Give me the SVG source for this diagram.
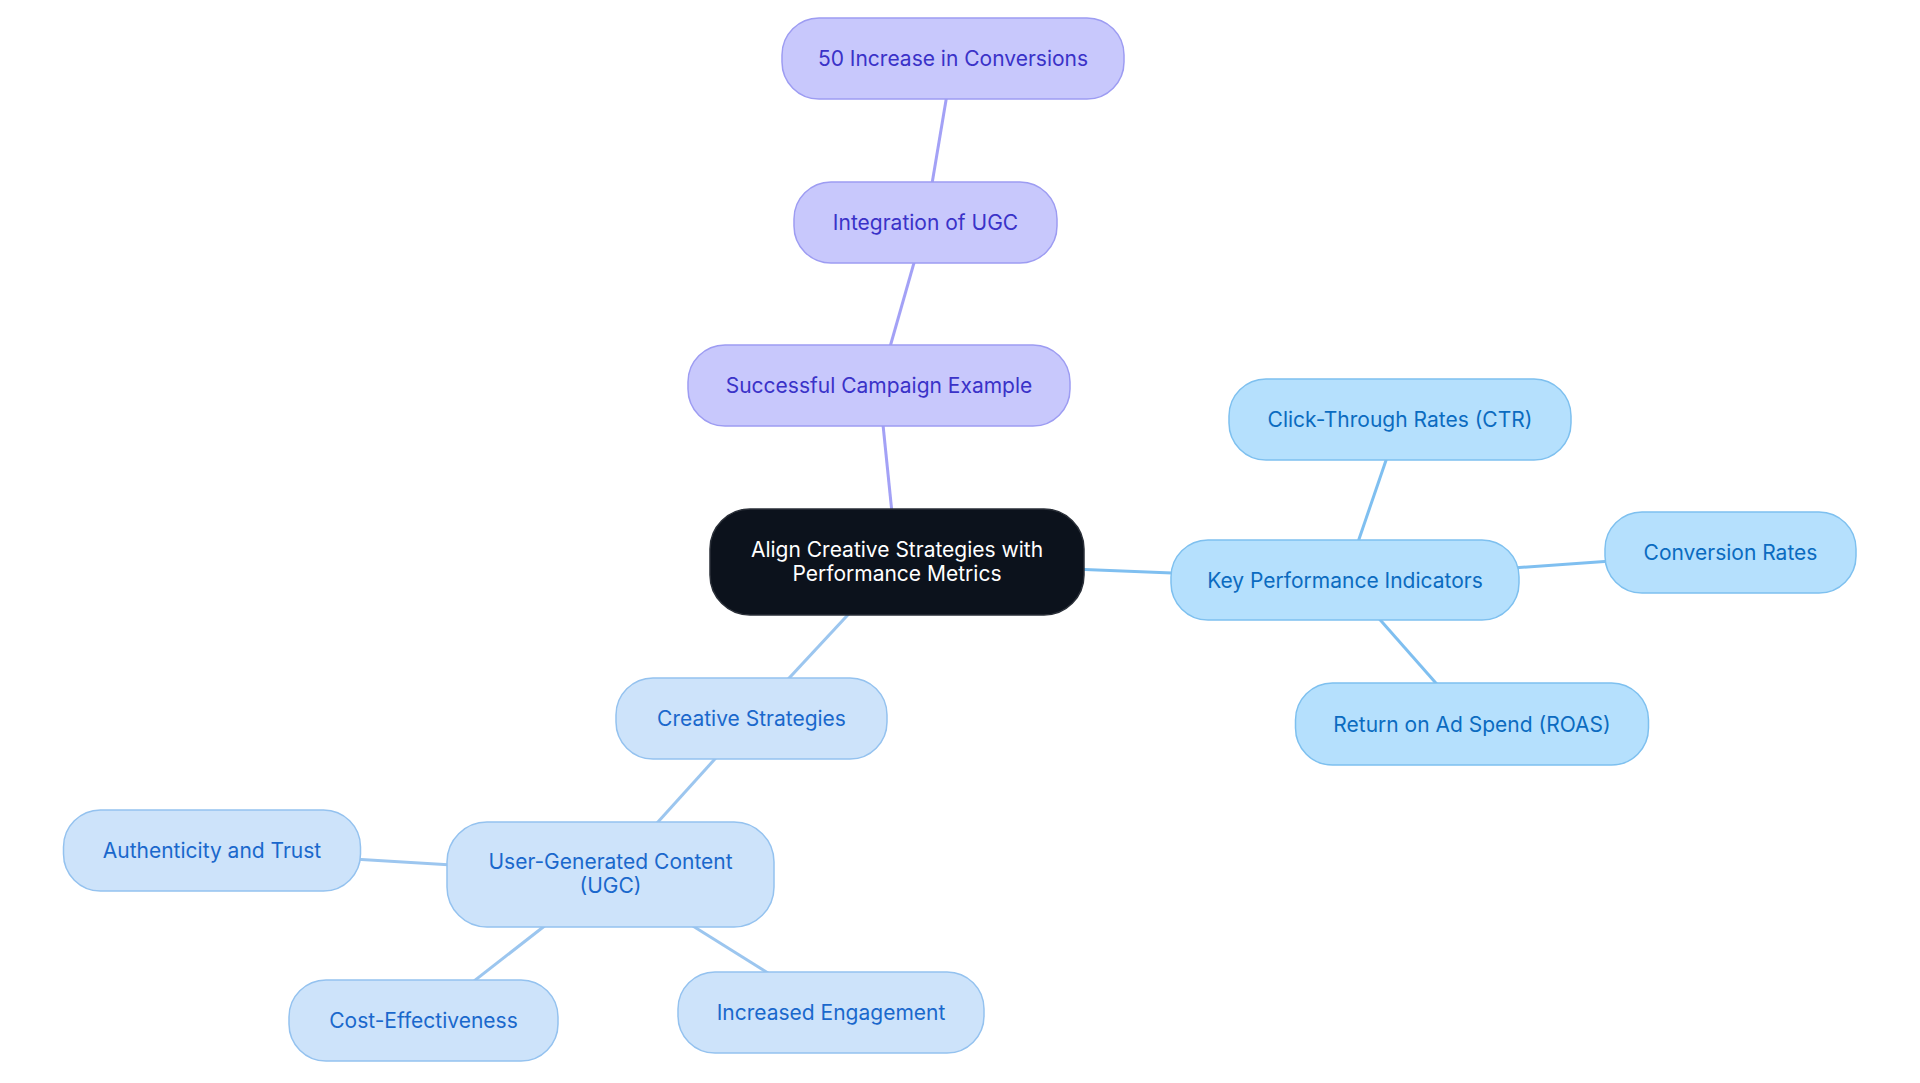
<svg xmlns="http://www.w3.org/2000/svg" width="1920" height="1083" viewBox="0 0 1920 1083">
<style>
text{font-family:Inter,"Noto Sans","Liberation Sans",sans-serif;font-size:21px;text-anchor:middle}
.p rect{fill:#c8c8fc;stroke:#9d9cf2;stroke-width:1.5}
.p text{fill:#3a32c8}
.k rect{fill:#b5e0fd;stroke:#7ec0ef;stroke-width:1.5}
.k text{fill:#0b6bc0}
.c rect{fill:#cde3fa;stroke:#94c2ef;stroke-width:1.5}
.c text{fill:#1a68cc}
.root rect{fill:#0c121c;stroke:#2a2f38;stroke-width:1.5}
.root text{fill:#ffffff}
.ep{stroke:#a3a1f6;stroke-width:3;fill:none}
.ek{stroke:#7fbff0;stroke-width:3;fill:none}
.ec{stroke:#9cc6ef;stroke-width:3;fill:none}
</style>
<rect width="1920" height="1083" fill="#ffffff"/>
<g id="connectors">
<line class="ep" x1="953" y1="58.5" x2="925.5" y2="222.5"/>
<line class="ep" x1="925.5" y1="222.5" x2="879" y2="385.5"/>
<line class="ep" x1="879" y1="385.5" x2="897" y2="562"/>
<line class="ek" x1="897" y1="562" x2="1345" y2="580"/>
<line class="ek" x1="1345" y1="580" x2="1400" y2="419.5"/>
<line class="ek" x1="1345" y1="580" x2="1730.5" y2="552.5"/>
<line class="ek" x1="1345" y1="580" x2="1472" y2="724"/>
<line class="ec" x1="897" y1="562" x2="751.5" y2="718.5"/>
<line class="ec" x1="751.5" y1="718.5" x2="610.5" y2="874.5"/>
<line class="ec" x1="610.5" y1="874.5" x2="212" y2="850.5"/>
<line class="ec" x1="610.5" y1="874.5" x2="423.5" y2="1020.5"/>
<line class="ec" x1="610.5" y1="874.5" x2="831" y2="1012.5"/>
</g>
<g id="n-root" class="root"><rect x="710" y="509" width="374" height="106" rx="40"/><text x="897" y="557">Align Creative Strategies with</text><text x="897" y="580.5">Performance Metrics</text></g>
<g id="n-success" class="p"><rect x="688" y="345" width="382" height="81" rx="37"/><text x="879" y="393">Successful Campaign Example</text></g>
<g id="n-integration" class="p"><rect x="794" y="182" width="263" height="81" rx="37"/><text x="925.5" y="230">Integration of UGC</text></g>
<g id="n-increase" class="p"><rect x="782" y="18" width="342" height="81" rx="37"/><text x="953" y="66">50 Increase in Conversions</text></g>
<g id="n-kpi" class="k"><rect x="1171" y="540" width="348" height="80" rx="37"/><text x="1345" y="587.5">Key Performance Indicators</text></g>
<g id="n-ctr" class="k"><rect x="1229" y="379" width="342" height="81" rx="37"/><text x="1400" y="427">Click-Through Rates (CTR)</text></g>
<g id="n-conv" class="k"><rect x="1605" y="512" width="251" height="81" rx="37"/><text x="1730.5" y="560">Conversion Rates</text></g>
<g id="n-roas" class="k"><rect x="1295.5" y="683" width="353" height="82" rx="37"/><text x="1472" y="731.5">Return on Ad Spend (ROAS)</text></g>
<g id="n-creative" class="c"><rect x="616" y="678" width="271" height="81" rx="37"/><text x="751.5" y="726">Creative Strategies</text></g>
<g id="n-ugc" class="c"><rect x="447" y="822" width="327" height="105" rx="40"/><text x="610.5" y="869">User-Generated Content</text><text x="610.5" y="892.5">(UGC)</text></g>
<g id="n-auth" class="c"><rect x="63.5" y="810" width="297" height="81" rx="37"/><text x="212" y="858">Authenticity and Trust</text></g>
<g id="n-cost" class="c"><rect x="289" y="980" width="269" height="81" rx="37"/><text x="423.5" y="1028">Cost-Effectiveness</text></g>
<g id="n-eng" class="c"><rect x="678" y="972" width="306" height="81" rx="37"/><text x="831" y="1020">Increased Engagement</text></g>
</svg>
